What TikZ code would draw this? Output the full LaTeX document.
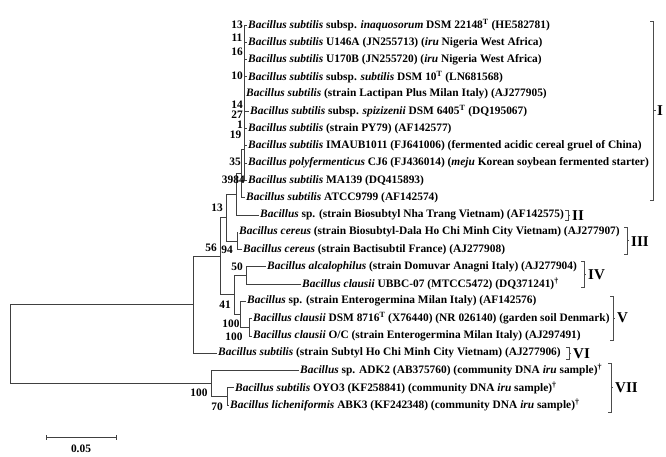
\documentclass[tikz,border=0pt]{standalone}
\usepackage{fontspec}
\setmainfont{Liberation Serif}
\usetikzlibrary{positioning}

\begin{document}
\begin{tikzpicture}[
  x=1pt, y=-1pt,
  taxon/.style={anchor=west, inner xsep=1.5pt, inner ysep=0pt,
                font=\fontsize{11.4}{13}\selectfont\bfseries},
  boot/.style={inner sep=0pt, font=\fontsize{11.4}{13}\selectfont\bfseries},
  clade/.style={anchor=west, inner sep=0pt, font=\fontsize{15}{16}\selectfont\bfseries},
  br/.style={line width=0.8pt, draw=black!75},
  bk/.style={line width=0.8pt, draw=black!70},
]
  \useasboundingbox (0,0) rectangle (666,457);

  % taxa
  \node[taxon] (t1)  at (246.5,25.0)  {\textit{Bacillus subtilis} subsp. \textit{inaquosorum} DSM 22148\textsuperscript{T} (HE582781)};
  \node[taxon] (t2)  at (246.5,42.3)  {\textit{Bacillus subtilis} U146A (JN255713) (\textit{iru} Nigeria West Africa)};
  \node[taxon] (t3)  at (246.5,59.5)  {\textit{Bacillus subtilis} U170B (JN255720) (\textit{iru} Nigeria West Africa)};
  \node[taxon] (t4)  at (246.5,76.8)  {\textit{Bacillus subtilis} subsp. \textit{subtilis} DSM 10\textsuperscript{T} (LN681568)};
  \node[taxon] (t5)  at (244.5,94.1)  {\textit{Bacillus subtilis} (strain Lactipan Plus Milan Italy) (AJ277905)};
  \node[taxon] (t6)  at (248.5,111.4) {\textit{Bacillus subtilis} subsp. \textit{spizizenii} DSM 6405\textsuperscript{T} (DQ195067)};
  \node[taxon] (t7)  at (246.5,128.6) {\textit{Bacillus subtilis} (strain PY79) (AF142577)};
  \node[taxon] (t8)  at (246.5,145.9) {\textit{Bacillus subtilis} IMAUB1011 (FJ641006) (fermented acidic cereal gruel of China)};
  \node[taxon] (t9)  at (246.5,163.2) {\textit{Bacillus polyfermenticus} CJ6 (FJ436014) (\textit{meju} Korean soybean fermented starter)};
  \node[taxon] (t10) at (246.5,180.4) {\textit{Bacillus subtilis} MA139 (DQ415893)};
  \node[taxon] (t11) at (244.5,197.7) {\textit{Bacillus subtilis} ATCC9799 (AF142574)};
  \node[taxon] (t12) at (258.5,215.0) {\textit{Bacillus} sp. (strain Biosubtyl Nha Trang Vietnam) (AF142575)};
  \node[taxon] (t13) at (237.5,232.2) {\textit{Bacillus cereus} (strain Biosubtyl-Dala Ho Chi Minh City Vietnam) (AJ277907)};
  \node[taxon] (t14) at (241.5,249.5) {\textit{Bacillus cereus} (strain Bactisubtil France) (AJ277908)};
  \node[taxon] (t15) at (265.5,266.8) {\textit{Bacillus alcalophilus} (strain Domuvar Anagni Italy) (AJ277904)};
  \node[taxon] (t16) at (300.5,284.1) {\textit{Bacillus clausii} UBBC-07 (MTCC5472) (DQ371241)\textsuperscript{†}};
  \node[taxon] (t17) at (245.5,301.3) {\textit{Bacillus} sp. (strain Enterogermina Milan Italy) (AF142576)};
  \node[taxon] (t18) at (251.5,318.6) {\textit{Bacillus clausii} DSM 8716\textsuperscript{T} (X76440) (NR 026140) (garden soil Denmark)};
  \node[taxon] (t19) at (251.5,335.9) {\textit{Bacillus clausii} O/C (strain Enterogermina Milan Italy) (AJ297491)};
  \node[taxon] (t20) at (216.5,353.1) {\textit{Bacillus subtilis} (strain Subtyl Ho Chi Minh City Vietnam) (AJ277906)};
  \node[taxon] (t21) at (298.5,370.4) {\textit{Bacillus} sp. ADK2 (AB375760) (community DNA \textit{iru} sample)\textsuperscript{†}};
  \node[taxon] (t22) at (233.5,387.7) {\textit{Bacillus subtilis} OYO3 (KF258841) (community DNA \textit{iru} sample)\textsuperscript{†}};
  \node[taxon] (t23) at (228.5,404.9) {\textit{Bacillus licheniformis} ABK3 (KF242348) (community DNA \textit{iru} sample)\textsuperscript{†}};

  % internal nodes
  \coordinate (root) at (10,344);
  \coordinate (nA)   at (193,304.5);
  \coordinate (nB)   at (220,256);
  \coordinate (nC)   at (226,217.5);
  \coordinate (nIII) at (236,194);
  \coordinate (nI)   at (241,173);
  \coordinate (nIa)  at (244,149);
  \coordinate (nCer) at (237,241);
  \coordinate (nD)   at (234,294.5);
  \coordinate (nIV)  at (246,275);
  \coordinate (nV)   at (240,314);
  \coordinate (nVb)  at (249,327);
  \coordinate (nVII) at (211,383);
  \coordinate (nVIIb) at (227,396);

  % branches
  \draw[br] (root) |- (nA);
  \draw[br] (root) |- (nVII);
  \draw[br] (nA) |- (nB);
  \draw[br] (nA) |- (t20.west);
  \draw[br] (nB) |- (nC);
  \draw[br] (nB) |- (nD);
  \draw[br] (nC) |- (nIII);
  \draw[br] (nC) |- (nCer);
  \draw[br] (nIII) |- (nI);
  \draw[br] (nIII) |- (t12.west);
  \draw[br] (nI) |- (nIa);
  \draw[br] (nI) |- (t11.west);
  \foreach \t in {t1,t2,t3,t4,t5,t6,t7,t8,t9,t10}
    \draw[br] (nIa) |- (\t.west);
  \draw[br] (nCer) |- (t13.west);
  \draw[br] (nCer) |- (t14.west);
  \draw[br] (nD) |- (nIV);
  \draw[br] (nD) |- (nV);
  \draw[br] (nIV) |- (t15.west);
  \draw[br] (nIV) |- (t16.west);
  \draw[br] (nV) |- (t17.west);
  \draw[br] (nV) |- (nVb);
  \draw[br] (nVb) |- (t18.west);
  \draw[br] (nVb) |- (t19.west);
  \draw[br] (nVII) |- (t21.west);
  \draw[br] (nVII) |- (nVIIb);
  \draw[br] (nVIIb) |- (t22.west);
  \draw[br] (nVIIb) |- (t23.west);

  % bootstrap values
  \node[boot] (b13a) at (237,25)  {13};
  \node[boot] (b11)  at (237,38)  {11};
  \node[boot] (b16)  at (237,52)  {16};
  \node[boot] (b10)  at (237,76)  {10};
  \node[boot] (b14)  at (237,105) {14};
  \node[boot] (b27)  at (237,115) {27};
  \node[boot] (b1)   at (240,125) {1};
  \node[boot] (b19)  at (235.5,135) {19};
  \node[boot] (b35)  at (235,162) {35};
  \node[boot] (b39)  at (227.5,180) {39};
  \node[boot] (b84)  at (239,180) {84};
  \node[boot] (b13b) at (217,208) {13};
  \node[boot] (b56)  at (211,248) {56};
  \node[boot] (b94)  at (227,250) {94};
  \node[boot] (b50)  at (237,267) {50};
  \node[boot] (b41)  at (225,305) {41};
  \node[boot] (b100a) at (231,324) {100};
  \node[boot] (b100b) at (234,337) {100};
  \node[boot] (b100c) at (199,393) {100};
  \node[boot] (b70)  at (217,407) {70};

  % clade brackets
  \draw[bk] (650,21) -- (653,21) -- (653,200) -- (650,200);
  \draw[bk] (653,110.5) -- (656,110.5);
  \node[clade] (cI) at (657,110.5) {I};
  \draw[bk] (565,210) -- (568,210) -- (568,220) -- (565,220);
  \draw[bk] (568,215) -- (570,215);
  \node[clade] (cII) at (572,216) {II};
  \draw[bk] (624,227) -- (627,227) -- (627,254) -- (624,254);
  \draw[bk] (627,240.5) -- (629,240.5);
  \node[clade] (cIII) at (631,242) {III};
  \draw[bk] (581,261) -- (584,261) -- (584,287) -- (581,287);
  \draw[bk] (584,274) -- (586,274);
  \node[clade] (cIV) at (588,275) {IV};
  \draw[bk] (610,296) -- (613,296) -- (613,340) -- (610,340);
  \draw[bk] (613,318) -- (615,318);
  \node[clade] (cV) at (617,318) {V};
  \draw[bk] (566,347) -- (569,347) -- (569,359) -- (566,359);
  \draw[bk] (569,353) -- (571,353);
  \node[clade] (cVI) at (573,354) {VI};
  \draw[bk] (608,363) -- (611,363) -- (611,412) -- (608,412);
  \draw[bk] (611,387.5) -- (613,387.5);
  \node[clade] (cVII) at (615,388) {VII};

  % scale bar
  \coordinate (sbl) at (46,437);
  \coordinate (sbr) at (116,437);
  \draw[br] (sbl) -- (sbr);
  \draw[br] ([yshift=-2.5pt]sbl) -- ([yshift=2.5pt]sbl);
  \draw[br] ([yshift=-2.5pt]sbr) -- ([yshift=2.5pt]sbr);
  \node[boot] (sblab) at (81,449) {0.05};
\end{tikzpicture}
\end{document}
